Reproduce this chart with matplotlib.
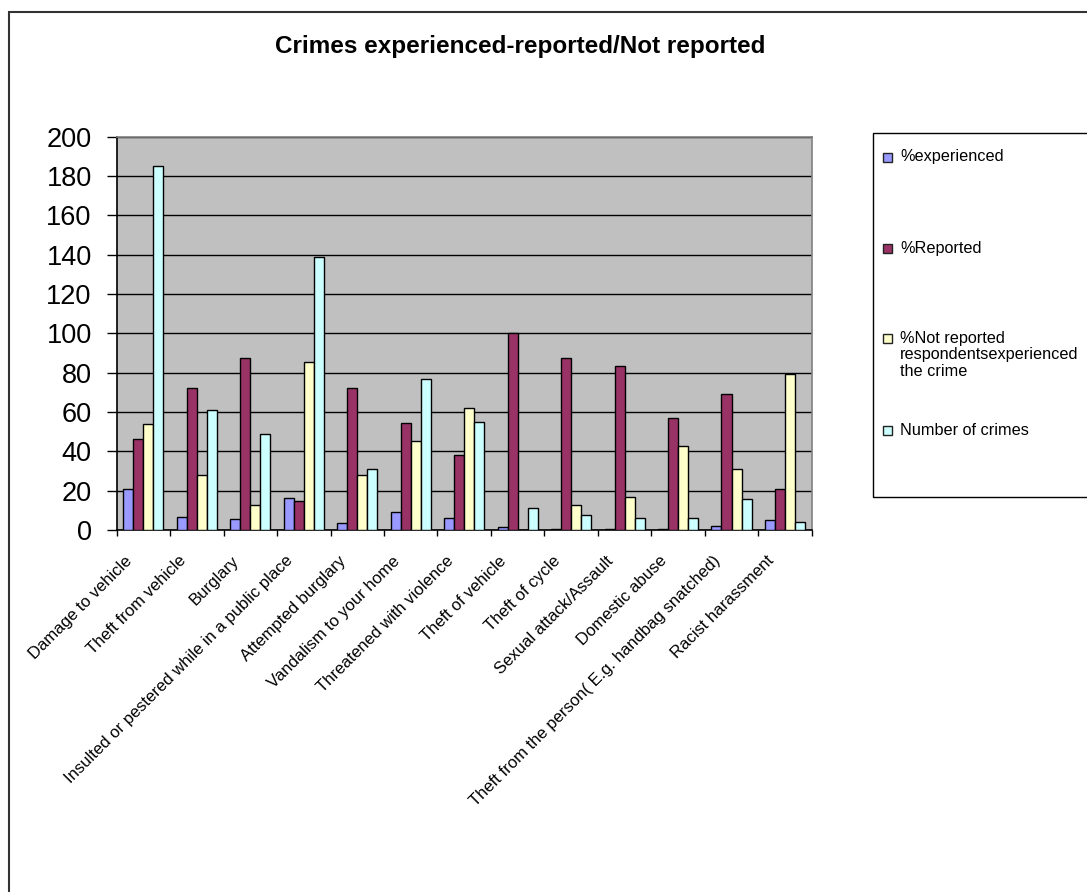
import matplotlib
matplotlib.use("Agg")
import matplotlib.pyplot as plt
from matplotlib.patches import Rectangle
from matplotlib.transforms import ScaledTranslation
import numpy as np

plt.rcParams['font.family'] = ['Liberation Sans', 'DejaVu Sans']

crimes = [
    "Damage to vehicle",
    "Theft from vehicle",
    "Burglary",
    "Insulted or pestered while in a public place",
    "Attempted burglary",
    "Vandalism to your home",
    "Threatened with violence",
    "Theft of vehicle",
    "Theft of cycle",
    "Sexual attack/Assault",
    "Domestic abuse",
    "Theft from the person( E.g. handbag snatched)",
    "Racist harassment",
]

pct_experienced = [21, 6.8, 5.4, 16.1, 3.4, 9, 6.3, 1.4, 0.4, 0.4, 0.4, 2, 4.9]
pct_reported = [46.2, 72.2, 87.5, 14.8, 72.2, 54.5, 38, 100, 87.5, 83.3, 57.1, 69.2, 20.8]
pct_not_reported = [53.8, 27.8, 12.5, 85.2, 27.8, 45.5, 62, 0, 12.5, 16.7, 42.9, 30.8, 79.2]
num_crimes = [185, 61, 49, 139, 31, 77, 55, 11, 7.5, 6.3, 6.3, 16, 4.2]

series_names = [
    "%experienced",
    "%Reported",
    "%Not reported\nrespondentsexperienced\nthe crime",
    "Number of crimes",
]
series = [pct_experienced, pct_reported, pct_not_reported, num_crimes]
colors = ["#9999FF", "#993366", "#FFFFCC", "#CCFFFF"]

W, H = 1087, 892
fig = plt.figure(figsize=(W / 100, H / 100), dpi=100)
fig.patch.set_facecolor("white")

# plot area in pixel coordinates
left, right, top, bottom = 116.7, 811.7, 136.7, 530
ax = fig.add_axes([left / W, 1 - bottom / H, (right - left) / W, (bottom - top) / H])
ax.set_facecolor("#C0C0C0")

x = np.arange(len(crimes))
bw = 0.1875
for i, (vals, col) in enumerate(zip(series, colors)):
    ax.bar(x + (i - 1.5) * bw, vals, bw, color=col, edgecolor="black",
           linewidth=1.0, zorder=3)

ax.set_xlim(-0.5, len(crimes) - 0.5)
ax.set_ylim(0, 200)
ax.set_yticks(np.arange(0, 201, 20))
ax.yaxis.grid(True, color="black", linewidth=1.0, zorder=1)
ax.set_axisbelow(True)

# ticks between categories; category names drawn under each group
ax.set_xticks(np.arange(-0.5, len(crimes), 1))
ax.set_xticklabels([])
ax.tick_params(axis="x", which="major", direction="out", length=4.5,
               width=1, color="black")
ax.tick_params(axis="y", direction="out", length=7, width=1, pad=11,
               labelsize=19.5, color="black")

label_tr = ax.get_xaxis_transform() + ScaledTranslation(-0.135, -0.285, fig.dpi_scale_trans)
for xi, name in zip(x, crimes):
    ax.text(xi, 0, name, transform=label_tr, rotation=45, ha="right",
            va="center", rotation_mode="anchor", fontsize=12)

for side in ("left", "bottom"):
    ax.spines[side].set_color("black")
    ax.spines[side].set_linewidth(1.2)
for side in ("top", "right"):
    ax.spines[side].set_color("#808080")
    ax.spines[side].set_linewidth(1.2)

fig.text(520 / W, 1 - 47 / H, "Crimes experienced-reported/Not reported",
         ha="center", va="center", fontsize=17.5, fontweight="bold")

# outer chart border, running off the right and bottom edges
fig.patches.append(Rectangle((9 / W, -0.05), 1.2, 1 - 12 / H + 0.05,
                             transform=fig.transFigure, fill=False,
                             edgecolor="#333333", linewidth=1.5))

# legend box and entries
fig.patches.append(Rectangle((873 / W, 1 - 497 / H), 0.3, (497 - 133) / H,
                             transform=fig.transFigure, fill=False,
                             edgecolor="black", linewidth=1.0))
entry_y = [157, 248, 338, 430]
for name, col, yy in zip(series_names, colors, entry_y):
    fig.patches.append(Rectangle((883 / W, 1 - (yy + 4.5) / H), 9 / W, 9 / H,
                                 transform=fig.transFigure, facecolor=col,
                                 edgecolor="#222222", linewidth=1.0))
    fig.text(900 / W, 1 - (yy - 7.5) / H, name, ha="left", va="top",
             fontsize=11.7, linespacing=1.15)

fig.savefig("out.png", dpi=100)
